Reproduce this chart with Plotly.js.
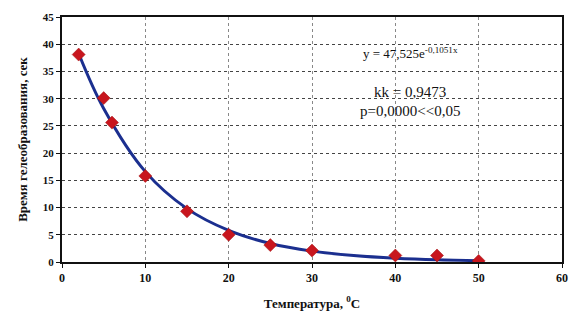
<!DOCTYPE html>
<html>
<head>
<meta charset="utf-8">
<script src="https://cdn.plot.ly/plotly-3.0.1.min.js"></script>
<style>html,body{margin:0;padding:0;background:#fff;}#chart{width:570px;height:322px;}</style>
</head>
<body>
<div id="chart"></div>
<script>
// Measured points
const tempX = [2, 5, 6, 10, 15, 20, 25, 30, 40, 45, 50];
const timeY = [38.1, 30.1, 25.6, 15.8, 9.3, 5.0, 3.1, 2.1, 1.2, 1.2, 0.2];
// Trend curve
const trendX = [2, 5, 10, 15, 20, 25, 30, 35, 40, 45, 50];
const trendY = [38.3, 28.2, 16.6, 9.8, 5.8, 3.4, 2.0, 1.2, 0.7, 0.4, 0.25];
const xTicks = [0, 10, 20, 30, 40, 50, 60];
const yTicks = [0, 5, 10, 15, 20, 25, 30, 35, 40, 45];
const eqText = "y = 47,525e<sup>-0,1051x</sup>";
const kkText = "kk = 0,9473";
const pText = "p=0,0000<<0,05";
const xTitle = "Температура, <sup>0</sup>C";
const yTitle = "Время гелеобразования, сек";

const serif = "Liberation Serif, Times New Roman, serif";
const traces = [
  {x: trendX, y: trendY, mode: "lines", type: "scatter",
   line: {color: "#1b2f8f", width: 3, shape: "spline", smoothing: 1}, hoverinfo: "skip"},
  {x: tempX, y: timeY, mode: "markers", type: "scatter",
   marker: {symbol: "diamond", color: "#c8161e", size: 10, line: {color: "#a01010", width: 0.5}}}
];
const layout = {
  width: 570, height: 322,
  margin: {l: 62, r: 8, t: 17, b: 60},
  showlegend: false,
  paper_bgcolor: "#fff", plot_bgcolor: "#fff",
  font: {family: serif, color: "#111"},
  xaxis: {range: [0, 60], tickvals: xTicks, ticktext: xTicks.map(String),
    showgrid: true, gridcolor: "#888", griddash: "dot", gridwidth: 1,
    showline: true, linecolor: "#111", linewidth: 2, mirror: true,
    ticks: "outside", ticklen: 4, tickcolor: "#111", zeroline: false,
    tickfont: {family: serif, size: 12, color: "#111", weight: "bold"},
    title: {text: xTitle, font: {family: serif, size: 13, color: "#111", weight: "bold"}, standoff: 14}},
  yaxis: {range: [0, 45], tickvals: yTicks, ticktext: yTicks.map(String),
    showgrid: true, gridcolor: "#444", griddash: "dot", gridwidth: 1,
    showline: true, linecolor: "#111", linewidth: 2, mirror: true,
    ticks: "outside", ticklen: 4, tickcolor: "#111", zeroline: false,
    tickfont: {family: serif, size: 11, color: "#111", weight: "bold"},
    title: {text: yTitle, font: {family: serif, size: 13, color: "#111", weight: "bold"}, standoff: 12}},
  annotations: [
    {x: 0.696, y: 0.853, xref: "paper", yref: "paper", text: eqText, showarrow: false,
     font: {family: serif, size: 13, color: "#111"}, xanchor: "center", yanchor: "middle"},
    {x: 0.696, y: 0.694, xref: "paper", yref: "paper", text: kkText, showarrow: false,
     font: {family: serif, size: 15, color: "#111"}, xanchor: "center", yanchor: "middle"},
    {x: 0.696, y: 0.618, xref: "paper", yref: "paper", text: pText, showarrow: false,
     font: {family: serif, size: 15, color: "#111"}, xanchor: "center", yanchor: "middle"}
  ]
};
Plotly.newPlot("chart", traces, layout, {displayModeBar: false, staticPlot: true});
</script>
</body>
</html>
